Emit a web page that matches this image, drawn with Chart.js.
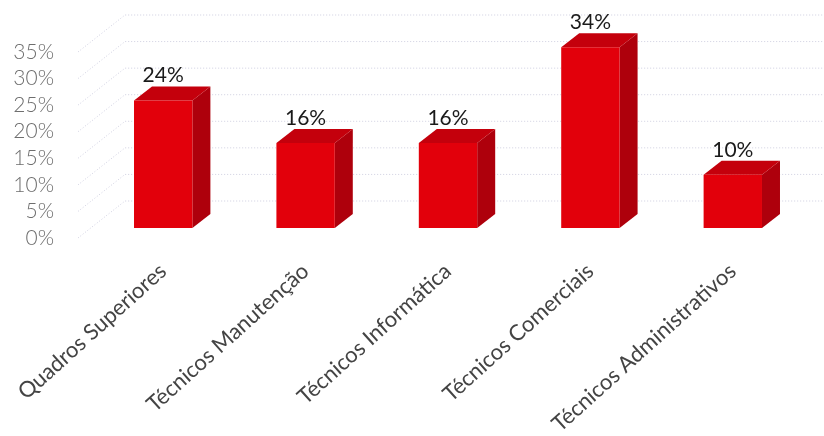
<!DOCTYPE html>
<html>
<head>
<meta charset="utf-8">
<style>
  html, body { margin: 0; padding: 0; background: #fff; }
  canvas { display: block; }
</style>
<script src="https://cdn.jsdelivr.net/npm/chart.js@4"></script>
</head>
<body>
<canvas id="chart" width="824" height="436"></canvas>
<script>
const categories = ['Quadros Superiores', 'Técnicos Manutenção', 'Técnicos Informática', 'Técnicos Comerciais', 'Técnicos Administrativos'];
const shares = [24, 16, 16, 34, 10];
const yMax = 35;
const yStep = 5;

const FONT = 'Lato, "Open Sans", sans-serif';
const WALL = { dx: 47, dy: -37 };   // depth of the back wall
const BAR = { dx: 18, dy: -14, lift: 10 };   // depth of a bar, and how far it sits behind the front edge

// fake 3D: back wall grid, then side and top faces behind each bar
const depth3d = {
  id: 'depth3d',
  beforeDatasetsDraw(chart) {
    const { ctx, scales: { x, y } } = chart;
    ctx.save();
    ctx.lineWidth = 1;
    ctx.strokeStyle = '#cfcfe0';
    ctx.setLineDash([1, 2]);
    for (let v = 0; v <= yMax; v += yStep) {
      const py = y.getPixelForValue(v);
      ctx.beginPath();
      ctx.moveTo(x.left - 14, py);
      ctx.lineTo(x.left - 14 + WALL.dx, py + WALL.dy);
      ctx.lineTo(chart.width, py + WALL.dy);
      ctx.stroke();
    }
    ctx.restore();
  },
  beforeDatasetDraw(chart) {
    const ctx = chart.ctx;
    ctx.save();
    ctx.translate(0, -BAR.lift);
    chart.getDatasetMeta(0).data.forEach(bar => {
      const l = bar.x - bar.width / 2;
      const r = bar.x + bar.width / 2;
      ctx.fillStyle = '#ae000c';
      ctx.beginPath();
      ctx.moveTo(r, bar.y);
      ctx.lineTo(r + BAR.dx, bar.y + BAR.dy);
      ctx.lineTo(r + BAR.dx, bar.base + BAR.dy);
      ctx.lineTo(r, bar.base);
      ctx.closePath();
      ctx.fill();
      ctx.fillStyle = '#c4000c';
      ctx.beginPath();
      ctx.moveTo(l, bar.y);
      ctx.lineTo(l + BAR.dx, bar.y + BAR.dy);
      ctx.lineTo(r + BAR.dx, bar.y + BAR.dy);
      ctx.lineTo(r, bar.y);
      ctx.closePath();
      ctx.fill();
    });
  },
  afterDatasetDraw(chart) {
    chart.ctx.restore();
  },
  afterDatasetsDraw(chart) {
    const ctx = chart.ctx;
    ctx.save();
    ctx.font = '21px ' + FONT;
    ctx.fillStyle = '#1a1a1a';
    ctx.textAlign = 'center';
    ctx.textBaseline = 'middle';
    chart.getDatasetMeta(0).data.forEach((bar, i) => {
      ctx.fillText(shares[i] + '%', bar.x, bar.y - BAR.lift - 25);
    });
    ctx.restore();
  }
};

new Chart(document.getElementById('chart'), {
  type: 'bar',
  data: {
    labels: categories,
    datasets: [{
      data: shares,
      backgroundColor: '#e2000b',
      borderWidth: 0,
      barPercentage: 0.41,
      categoryPercentage: 1
    }]
  },
  options: {
    responsive: false,
    animation: false,
    layout: { padding: { top: 52, right: 20, left: 0, bottom: 0 } },
    plugins: { legend: { display: false }, tooltip: { enabled: false } },
    scales: {
      x: {
        grid: { display: false },
        border: { display: false },
        ticks: {
          minRotation: 42,
          maxRotation: 42,
          autoSkip: false,
          padding: 12,
          color: '#444',
          font: { family: FONT, size: 22 }
        },
        afterFit(scale) {
          scale.height = 198;
          scale.paddingLeft = 0;
          scale.paddingRight = 0;
        }
      },
      y: {
        min: 0,
        max: yMax,
        grid: { display: false },
        border: { display: false },
        ticks: {
          stepSize: yStep,
          autoSkip: false,
          padding: 30,
          color: '#6e6e6e',
          font: { family: FONT, size: 21, weight: 300 },
          callback: v => v + '%'
        },
        afterFit(scale) { scale.width = 92; }
      }
    }
  },
  plugins: [depth3d]
});
</script>
</body>
</html>
